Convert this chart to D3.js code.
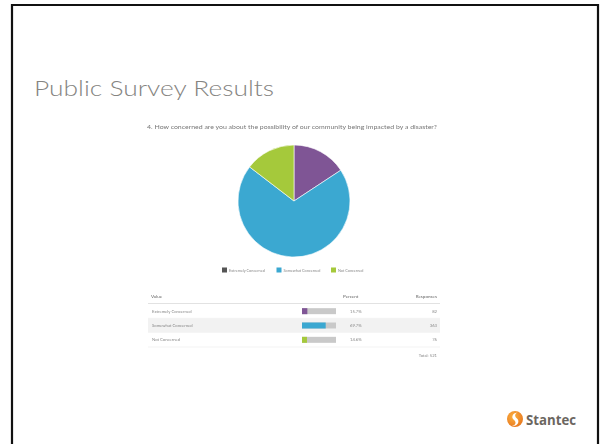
<!DOCTYPE html>
<html>
<head>
<meta charset="utf-8">
<script src="https://cdn.jsdelivr.net/npm/d3@7/dist/d3.min.js"></script>
<style>
  html, body { margin: 0; padding: 0; background: #fff; }
  svg { display: block; }
</style>
</head>
<body>
<svg id="slide" width="600" height="444"></svg>
<script>
// Survey question 4 responses
const categories = ["Extremely Concerned", "Somewhat Concerned", "Not Concerned"];
const responses = [82, 363, 76];
const colors = ["#7f5595", "#3aa8d1", "#a5c93b"];
const slideTitle = "Public Survey Results";
const question = "4. How concerned are you about the possibility of our community being impacted by a disaster?";
const tableHeaders = ["Value", "Percent", "Responses"];

const total = d3.sum(responses);
const rows = categories.map((c, i) => ({ name: c, value: responses[i], color: colors[i], pct: responses[i] / total }));

const svg = d3.select("#slide");
const font = "Lato, 'Open Sans', sans-serif";
const defs = svg.append("defs");
defs.append("filter").attr("id", "soft")
  .append("feGaussianBlur").attr("stdDeviation", 0.45);

// slide frame
svg.append("path")
  .attr("d", "M12,450 V5 H598 V450")
  .attr("fill", "none").attr("stroke", "#111").attr("stroke-width", 2.2);

// slide title
svg.append("text")
  .attr("x", 34).attr("y", 96)
  .attr("font-family", "'Century Gothic', 'URW Gothic', Lato, sans-serif")
  .attr("font-weight", 300)
  .attr("font-size", 22)
  .attr("fill", "#858481")
  .attr("textLength", 240)
  .attr("lengthAdjust", "spacingAndGlyphs")
  .text(slideTitle);

const chart = svg.append("g").attr("filter", "url(#soft)");

// question heading
chart.append("text")
  .attr("x", 147).attr("y", 129)
  .attr("font-family", font).attr("font-size", 5.2)
  .attr("fill", "#777")
  .attr("textLength", 290).attr("lengthAdjust", "spacingAndGlyphs")
  .text(question);

// pie
const cx = 294, cy = 201, r = 56;
const pie = d3.pie().sort(null).value(d => d.value);
const arc = d3.arc().innerRadius(0).outerRadius(r);
chart.append("g").attr("transform", `translate(${cx},${cy})`)
  .selectAll("path").data(pie(rows)).join("path")
  .attr("d", arc).attr("fill", d => d.data.color)
  .attr("stroke", "#fff").attr("stroke-width", 0.6);

// legend
const legendX = d3.scalePoint().domain(categories).range([222, 331]);
const lg = chart.append("g").selectAll("g").data(rows).join("g")
  .attr("transform", d => `translate(${legendX(d.name)},270)`);
lg.append("rect").attr("x", 0).attr("y", -2.5).attr("width", 5).attr("height", 5)
  .attr("fill", (d, i) => i === 0 ? "#555" : d.color);
lg.append("text").attr("x", 7).attr("y", 1.5)
  .attr("font-family", font).attr("font-size", 3.8).attr("fill", "#888")
  .text(d => d.name);

// results table
const tLeft = 148, tRight = 440;
const rowY = d3.scaleBand().domain(categories).range([304, 347]);
const tbl = chart.append("g");

tbl.append("text").attr("x", 151).attr("y", 298)
  .attr("font-family", font).attr("font-size", 4.6).attr("fill", "#666").text(tableHeaders[0]);
tbl.append("text").attr("x", 343).attr("y", 298)
  .attr("font-family", font).attr("font-size", 4.6).attr("fill", "#666").text(tableHeaders[1]);
tbl.append("text").attr("x", 437).attr("y", 298).attr("text-anchor", "end")
  .attr("font-family", font).attr("font-size", 4.6).attr("fill", "#666").text(tableHeaders[2]);

tbl.append("line").attr("x1", tLeft).attr("x2", tRight).attr("y1", 303.5).attr("y2", 303.5)
  .attr("stroke", "#dadada").attr("stroke-width", 0.8);

const rg = tbl.selectAll("g.row").data(rows).join("g").attr("class", "row")
  .attr("transform", d => `translate(0,${rowY(d.name)})`);
rg.append("rect").attr("x", tLeft).attr("width", tRight - tLeft).attr("height", rowY.bandwidth())
  .attr("fill", (d, i) => i === 1 ? "#f2f2f2" : "#fff");
rg.append("line").attr("x1", tLeft).attr("x2", tRight)
  .attr("y1", rowY.bandwidth()).attr("y2", rowY.bandwidth())
  .attr("stroke", "#ededed").attr("stroke-width", 0.6);
rg.append("text").attr("x", 152).attr("y", rowY.bandwidth() / 2 + 1.5)
  .attr("font-family", font).attr("font-size", 4.2).attr("fill", "#888").text(d => d.name);

const barX = d3.scaleLinear().domain([0, 1]).range([302, 336]);
rg.append("rect").attr("x", barX(0)).attr("y", rowY.bandwidth() / 2 - 3)
  .attr("width", barX(1) - barX(0)).attr("height", 6).attr("fill", "#c9c9c9");
rg.append("rect").attr("x", barX(0)).attr("y", rowY.bandwidth() / 2 - 3)
  .attr("width", d => barX(d.pct) - barX(0)).attr("height", 6).attr("fill", d => d.color);
rg.append("text").attr("x", 350).attr("y", rowY.bandwidth() / 2 + 1.5)
  .attr("font-family", font).attr("font-size", 4.2).attr("fill", "#888")
  .text(d => d3.format(".1%")(d.pct));
rg.append("text").attr("x", 437).attr("y", rowY.bandwidth() / 2 + 1.5).attr("text-anchor", "end")
  .attr("font-family", font).attr("font-size", 4.2).attr("fill", "#888")
  .text(d => d.value);

tbl.append("text").attr("x", 437).attr("y", 357).attr("text-anchor", "end")
  .attr("font-family", font).attr("font-size", 4.2).attr("fill", "#888")
  .text("Total: " + total);

// Stantec logo
const logo = svg.append("g").attr("transform", "translate(515,419)");
const grad = defs.append("radialGradient").attr("id", "orange")
  .attr("cx", "40%").attr("cy", "35%").attr("r", "70%");
grad.append("stop").attr("offset", "0%").attr("stop-color", "#fbb040");
grad.append("stop").attr("offset", "100%").attr("stop-color", "#e8781e");
logo.append("circle").attr("r", 8).attr("fill", "url(#orange)");
logo.append("path")
  .attr("d", "M2.5,-6.5 C-3,-6 -4,-1 -1,1 C1.5,3 1,6 -3,7 C3,7.5 5,2 2,-0.5 C-0.5,-2.5 -0.5,-5 2.5,-6.5 Z")
  .attr("fill", "#fff");
svg.append("text").attr("x", 526).attr("y", 424.5)
  .attr("font-family", "'Open Sans', Lato, sans-serif").attr("font-weight", 700)
  .attr("font-size", 14).attr("fill", "#6b665f")
  .attr("textLength", 50).attr("lengthAdjust", "spacingAndGlyphs")
  .text("Stantec");
</script>
</body>
</html>
